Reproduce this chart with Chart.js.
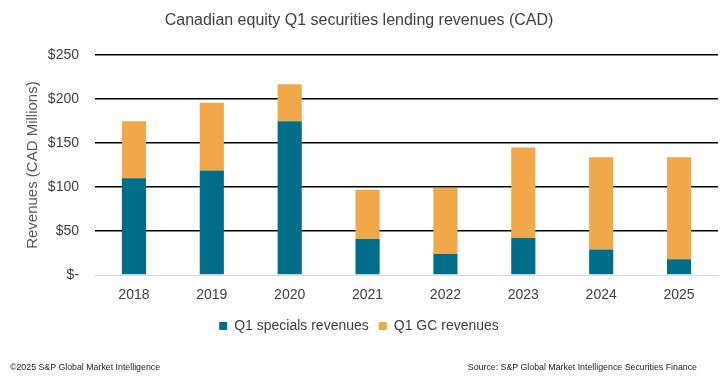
<!DOCTYPE html>
<html>
<head>
<meta charset="utf-8">
<script src="https://cdn.jsdelivr.net/npm/chart.js@4.4.1/dist/chart.umd.min.js"></script>
<style>
  html, body { margin: 0; padding: 0; background: #ffffff; }
  #wrap { position: relative; width: 721px; height: 378px; overflow: hidden; background: #fff; }
  #c { position: absolute; left: 0; top: 0; }
  .foot { position: absolute; top: 362px; font-family: "Liberation Sans", Arial, sans-serif; font-size: 8.8px; color: #222; white-space: nowrap; }
  #fl { left: 10px; }
  #fr { right: 24px; }
</style>
</head>
<body>
<div id="wrap">
  <canvas id="c" width="721" height="378"></canvas>
  <div class="foot" id="fl">©2025 S&amp;P Global Market Intelligence</div>
  <div class="foot" id="fr">Source: S&amp;P Global Market Intelligence Securities Finance</div>
</div>
<script>
const categories = ["2018", "2019", "2020", "2021", "2022", "2023", "2024", "2025"];
const specialsRevenues = [110, 119, 175, 41, 24, 42, 29, 18];
const gcRevenues = [65, 77, 42, 56, 75, 103, 105, 116];
const seriesNames = ["Q1 specials revenues", "Q1 GC revenues"];
const yTicks = [0, 50, 100, 150, 200, 250];
const titleText = "Canadian equity Q1 securities lending revenues (CAD)";
const yTitle = "Revenues (CAD Millions)";

const sans = "'Liberation Sans', Arial, sans-serif";

new Chart(document.getElementById('c'), {
  type: 'bar',
  data: {
    labels: categories,
    datasets: [
      { label: seriesNames[0], data: specialsRevenues, backgroundColor: '#016E89', borderWidth: 0 },
      { label: seriesNames[1], data: gcRevenues, backgroundColor: '#F0A84B', borderWidth: 0 }
    ]
  },
  options: {
    responsive: false,
    animation: false,
    devicePixelRatio: 1,
    layout: { padding: { left: 0, right: 3, top: 0, bottom: 35 } },
    datasets: { bar: { barPercentage: 0.31, categoryPercentage: 1.0 } },
    plugins: {
      title: {
        display: true,
        text: titleText,
        color: '#404040',
        font: { family: sans, size: 16, weight: 'normal' },
        padding: { top: 11, bottom: 25 }
      },
      legend: {
        position: 'bottom',
        labels: {
          color: '#404040',
          font: { family: sans, size: 14 },
          boxWidth: 8,
          boxHeight: 8,
          padding: 10
        }
      },
      tooltip: { enabled: false }
    },
    scales: {
      x: {
        stacked: true,
        grid: { display: false },
        border: { display: true, color: '#d9d9d9', width: 1 },
        ticks: { color: '#404040', font: { family: sans, size: 14 }, padding: 4 },
        afterFit: (s) => { s.height = 34; }
      },
      y: {
        stacked: true,
        min: 0,
        max: 250,
        afterBuildTicks: (s) => { s.ticks = yTicks.map(v => ({ value: v })); },
        grid: {
          color: (ctx) => ctx.tick && ctx.tick.value === 0 ? 'rgba(0,0,0,0)' : '#000000',
          lineWidth: 1.5,
          drawTicks: false
        },
        border: { display: false },
        ticks: {
          color: '#404040',
          font: { family: sans, size: 14 },
          padding: 16,
          callback: (v) => v === 0 ? '$-' : '$' + v
        },
        title: {
          display: true,
          text: yTitle,
          color: '#595959',
          font: { family: sans, size: 15 },
          padding: { top: 24, bottom: 0 }
        },
        afterFit: (s) => { s.width = 95; }
      }
    }
  }
});
</script>
</body>
</html>
